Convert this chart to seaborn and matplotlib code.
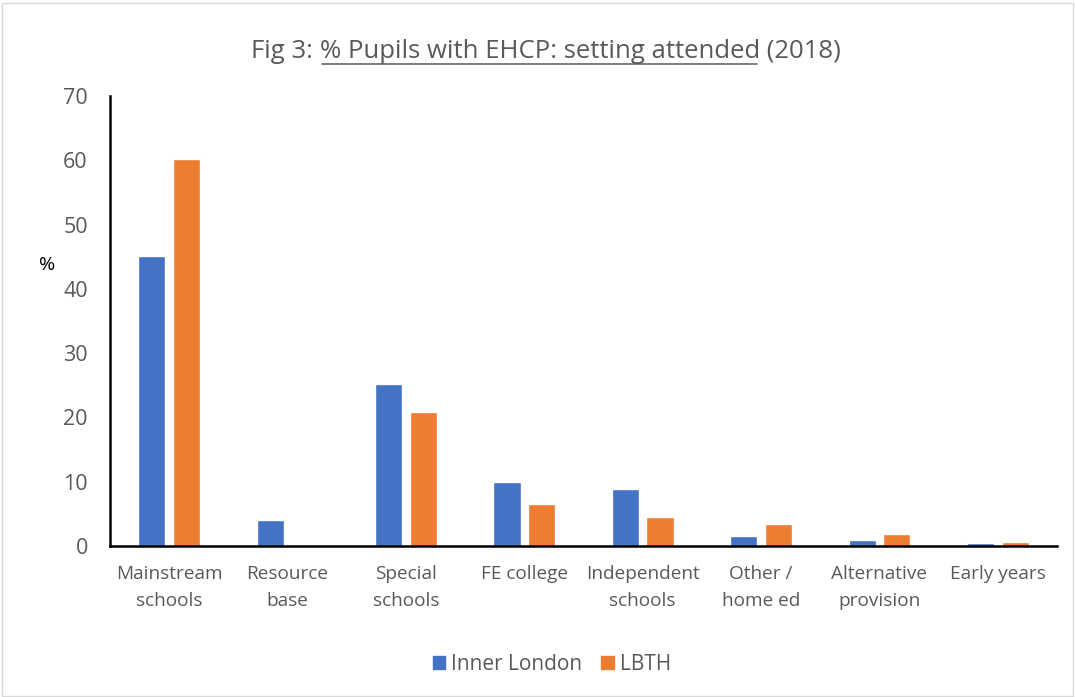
import matplotlib
matplotlib.use("Agg")
import matplotlib.pyplot as plt
import seaborn as sns
import pandas as pd
from matplotlib.patches import Rectangle
from matplotlib.lines import Line2D

categories = ["Mainstream\nschools", "Resource\nbase", "Special\nschools", "FE college",
              "Independent\nschools", "Other /\nhome ed", "Alternative\nprovision", "Early years"]
inner_london = [45.1, 4.0, 25.2, 10.0, 8.9, 1.6, 0.9, 0.45]
lbth = [60.2, 0.0, 20.8, 6.5, 4.5, 3.5, 1.9, 0.6]
series_names = ["Inner London", "LBTH"]
colors = ["#4472C4", "#ED7D31"]
yticks = [0, 10, 20, 30, 40, 50, 60, 70]

df = pd.DataFrame({
    "category": categories * 2,
    "value": inner_london + lbth,
    "series": [series_names[0]] * len(categories) + [series_names[1]] * len(categories),
})

sns.set_theme(style="white")
plt.rcParams["font.family"] = ["Open Sans", "DejaVu Sans"]
grey = "#595959"

fig = plt.figure(figsize=(10.75, 6.97), dpi=100)
ax = fig.add_axes([110 / 1075, 1 - 546 / 697, (1057 - 110) / 1075, 450 / 697])

sns.barplot(data=df, x="category", y="value", hue="series", order=categories,
            hue_order=series_names, palette=colors, width=0.585, gap=0.22,
            saturation=1, ax=ax, legend=False)

ax.set_xlim(-0.5, len(categories) - 0.5)
ax.set_ylim(0, 70)
ax.set_yticks(yticks)
ax.set_yticklabels([str(v) for v in yticks], fontsize=15.5, color=grey)
ax.tick_params(axis="x", labelsize=13.7, labelcolor=grey, length=0, pad=14)
ax.tick_params(axis="y", length=0, pad=16)
for lab in ax.get_xticklabels():
    lab.set_linespacing(1.62)
ax.set_xlabel("")
ax.set_ylabel("%", rotation=0, fontsize=14, color="black", va="center", ha="center")
ax.yaxis.set_label_coords(-0.0665, 0.624)
for s in ["top", "right"]:
    ax.spines[s].set_visible(False)
for s in ["left", "bottom"]:
    ax.spines[s].set_color("black")
    ax.spines[s].set_linewidth(1.8)
ax.grid(False)

# Legend
handles = [Rectangle((0, 0), 1, 1, color=c) for c in colors]
fig.legend(handles, series_names, loc="center", bbox_to_anchor=(552 / 1075, 1 - 664 / 697),
           ncol=2, frameon=False, fontsize=15, handlelength=0.6, handleheight=0.6,
           columnspacing=0.9, handletextpad=0.3, labelcolor=grey)

# Title with underlined middle part
parts = ["Fig 3: ", "% Pupils with EHCP: setting attended", " (2018)"]
renderer = fig.canvas.get_renderer()
tfs = 18.5
texts = [fig.text(0, 0, p, fontsize=tfs, color=grey) for p in parts]
full = fig.text(0, 0, "".join(parts), fontsize=tfs)
total_w = full.get_window_extent(renderer).width
full.remove()
widths = []
for i in range(3):
    sub = fig.text(0, 0, "".join(parts[: i + 1]), fontsize=tfs)
    widths.append(sub.get_window_extent(renderer).width)
    sub.remove()
x0 = 546 - total_w / 2
ybase = 697 - 58
starts = [x0, x0 + widths[0], x0 + widths[1]]
for t, xs in zip(texts, starts):
    t.set_position((xs / 1075, ybase / 697))
    t.set_va("baseline")
ul_y = (ybase - 6) / 697
fig.add_artist(Line2D([starts[1] / 1075 + 0.002, (x0 + widths[1] - 3) / 1075], [ul_y, ul_y],
                      color=grey, linewidth=1.1, transform=fig.transFigure))

# Figure border
fig.add_artist(Rectangle((0.002, 0.002), 0.996, 0.994, transform=fig.transFigure,
                         fill=False, edgecolor="#D9D9D9", linewidth=1.0))

fig.savefig("out.png", dpi=100)
